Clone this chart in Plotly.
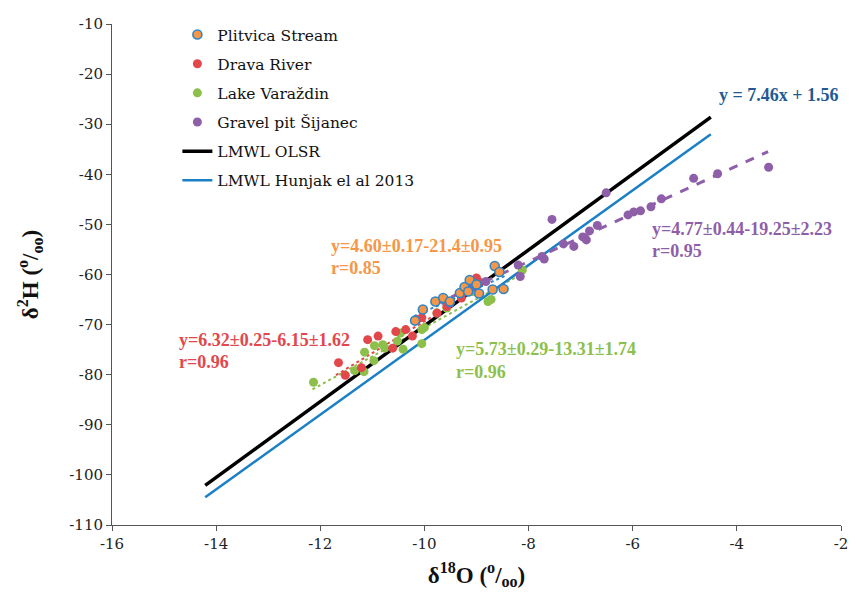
import plotly.graph_objects as go

# ---- data ----
plit_x = [-10.18, -10.03, -9.79, -9.64, -9.51, -9.32, -9.23, -9.16, -9.13, -9.00, -8.95, -8.69, -8.65, -8.56, -8.48]
plit_y = [-69.2, -67.0, -65.4, -64.7, -65.4, -63.7, -62.5, -63.4, -61.1, -62.0, -63.8, -63.0, -58.3, -59.5, -62.9]

drava_x = [-11.65, -11.52, -11.21, -11.09, -10.89, -10.61, -10.55, -10.36, -10.23, -10.14, -10.05, -9.76, -9.57, -9.29, -9.10, -9.00, -8.95]
drava_y = [-77.6, -80.1, -78.6, -73.0, -72.3, -74.7, -71.4, -71.0, -72.3, -69.0, -68.6, -67.7, -66.4, -64.7, -62.4, -60.7, -61.5]

lake_x = [-12.13, -11.34, -11.16, -11.15, -10.97, -10.96, -10.80, -10.76, -10.52, -10.46, -10.41, -10.05, -10.05, -10.00, -9.76, -9.57, -9.07, -8.78, -8.72, -8.12]
lake_y = [-81.5, -79.2, -79.4, -75.5, -77.2, -74.2, -74.0, -74.7, -73.3, -71.7, -74.9, -73.8, -71.0, -70.6, -67.7, -66.7, -63.4, -65.4, -65.0, -59.1]

grav_x = [-3.39, -4.37, -4.83, -5.45, -5.65, -5.85, -5.98, -6.09, -6.51, -6.68, -6.83, -6.89, -6.96, -7.13, -7.33, -7.55, -7.70, -7.74, -8.20, -8.16, -8.82, -9.05, -9.51]
grav_y = [-38.6, -39.9, -40.8, -44.9, -46.5, -47.3, -47.5, -48.1, -43.7, -50.2, -51.3, -53.1, -52.5, -54.4, -53.9, -49.0, -56.9, -56.4, -58.1, -60.4, -61.4, -62.5, -65.7]

# meteoric water lines (end points)
olsr_x = [-14.21, -4.50]
olsr_y = [-102.1, -28.6]
hunjak_x = [-14.21, -4.50]
hunjak_y = [-104.45, -32.01]

# regression lines per site (slope, intercept, x range)
plit_fit = (4.60, -21.4, [-10.2, -8.45])
drava_fit = (6.32, -6.15, [-11.7, -8.95])
lake_fit = (5.73, -13.31, [-12.15, -8.1])
grav_fit = (4.77, -19.25, [-9.8, -3.4])

x_ticks = [-16, -14, -12, -10, -8, -6, -4, -2]
y_ticks = [-110, -100, -90, -80, -70, -60, -50, -40, -30, -20, -10]

# ---- colours ----
C_OR = "#f79646"
C_BL = "#2e86c8"
C_RED = "#e2474c"
C_GRN = "#8cc04a"
C_PUR = "#8e5fa8"
C_LBL = "#1a7fc4"
C_DBL = "#1f5a94"

FONT = "Liberation Serif"
FONT2 = "DejaVu Serif"

fig = go.Figure()

def fit_line(fit):
    a, b, xr = fit
    return xr, [a * v + b for v in xr]

# trend lines (not in legend)
fx, fy = fit_line(drava_fit)
fig.add_trace(go.Scatter(x=fx, y=fy, mode="lines", line=dict(color=C_RED, width=2, dash="dot"), showlegend=False, hoverinfo="skip"))
fx, fy = fit_line(lake_fit)
fig.add_trace(go.Scatter(x=fx, y=fy, mode="lines", line=dict(color=C_GRN, width=2, dash="dot"), showlegend=False, hoverinfo="skip"))
fx, fy = fit_line(plit_fit)
fig.add_trace(go.Scatter(x=fx, y=fy, mode="lines", line=dict(color=C_BL, width=2, dash="dot"), showlegend=False, hoverinfo="skip"))

# LMWL lines
fig.add_trace(go.Scatter(x=olsr_x, y=olsr_y, mode="lines", line=dict(color="black", width=3.5),
                         name="LMWL OLSR", legendrank=5, legendgroup="g5"))
fig.add_trace(go.Scatter(x=hunjak_x, y=hunjak_y, mode="lines", line=dict(color=C_LBL, width=2.5),
                         name="LMWL Hunjak el al 2013", legendrank=6, legendgroup="g6"))

fx, fy = fit_line(grav_fit)
fig.add_trace(go.Scatter(x=fx, y=fy, mode="lines", line=dict(color=C_PUR, width=3, dash="dash"), showlegend=False, hoverinfo="skip"))

# data points
ms = 9
fig.add_trace(go.Scatter(x=lake_x, y=lake_y, mode="markers", name="Lake Varaždin",
                         marker=dict(color=C_GRN, size=ms), legendrank=3, legendgroup="g3"))
fig.add_trace(go.Scatter(x=drava_x, y=drava_y, mode="markers", name="Drava River",
                         marker=dict(color=C_RED, size=ms), legendrank=2, legendgroup="g2"))
fig.add_trace(go.Scatter(x=grav_x, y=grav_y, mode="markers", name="Gravel pit Šijanec",
                         marker=dict(color=C_PUR, size=ms), legendrank=4, legendgroup="g4"))
fig.add_trace(go.Scatter(x=plit_x, y=plit_y, mode="markers", name="Plitvica Stream",
                         marker=dict(color=C_OR, size=ms, line=dict(color=C_BL, width=1.6)),
                         legendrank=1, legendgroup="g1"))

# plot geometry helpers for annotations
L, R, T, B = 112, 848, 24, 525.7
def px(xp):
    return -16 + (xp - L) / (R - L) * 14
def py(yp):
    return -110 + (B - yp) / (B - T) * 100

def note(text, xp, yp, color):
    fig.add_annotation(x=px(xp), y=py(yp), xref="x", yref="y", text="<b>" + text + "</b>",
                       showarrow=False, xanchor="left", yanchor="middle",
                       font=dict(family=FONT, size=18, color=color))

note("y=4.60±0.17-21.4±0.95", 331, 246, C_OR)
note("r=0.85", 331, 268, C_OR)
note("y=6.32±0.25-6.15±1.62", 178, 340, C_RED)
note("r=0.96", 178, 362, C_RED)
note("y=5.73±0.29-13.31±1.74", 457, 349, C_GRN)
note("r=0.96", 457, 372, C_GRN)
note("y=4.77±0.44-19.25±2.23", 655, 229, C_PUR)
note("r=0.95", 655, 251, C_PUR)
note("y = 7.46x + 1.56", 723, 95, C_DBL)

axis_common = dict(showgrid=False, zeroline=False, showline=True, linecolor="#555", linewidth=1,
                   ticks="outside", ticklen=5, tickcolor="#555",
                   tickfont=dict(family=FONT2, size=15, color="#222"))

fig.update_xaxes(range=[-16, -2], tickvals=x_ticks, ticktext=[str(v) for v in x_ticks],
                 title=dict(text="<b>δ<sup>18</sup>O (<sup>o</sup>/<sub>oo</sub>)</b>",
                            font=dict(family=FONT, size=23, color="#111"), standoff=14),
                 **axis_common)
fig.update_yaxes(range=[-110, -10], tickvals=y_ticks, ticktext=[str(v) for v in y_ticks],
                 title=dict(text="<b>δ<sup>2</sup>H (<sup>o</sup>/<sub>oo</sub>)</b>",
                            font=dict(family=FONT, size=23, color="#111"), standoff=24),
                 **axis_common)

fig.update_layout(
    width=857, height=592,
    margin=dict(l=L, r=857 - R, t=T, b=592 - B),
    plot_bgcolor="white", paper_bgcolor="white",
    showlegend=True,
    legend=dict(x=(178 - L) / (R - L), y=1.012, xanchor="left", yanchor="top",
                font=dict(family=FONT2, size=15.5, color="#111"),
                bgcolor="rgba(0,0,0,0)", tracegroupgap=6, itemwidth=30),
)

fig.write_html("out.html", config={"displayModeBar": False},
               post_script="document.body.style.margin='0';")
